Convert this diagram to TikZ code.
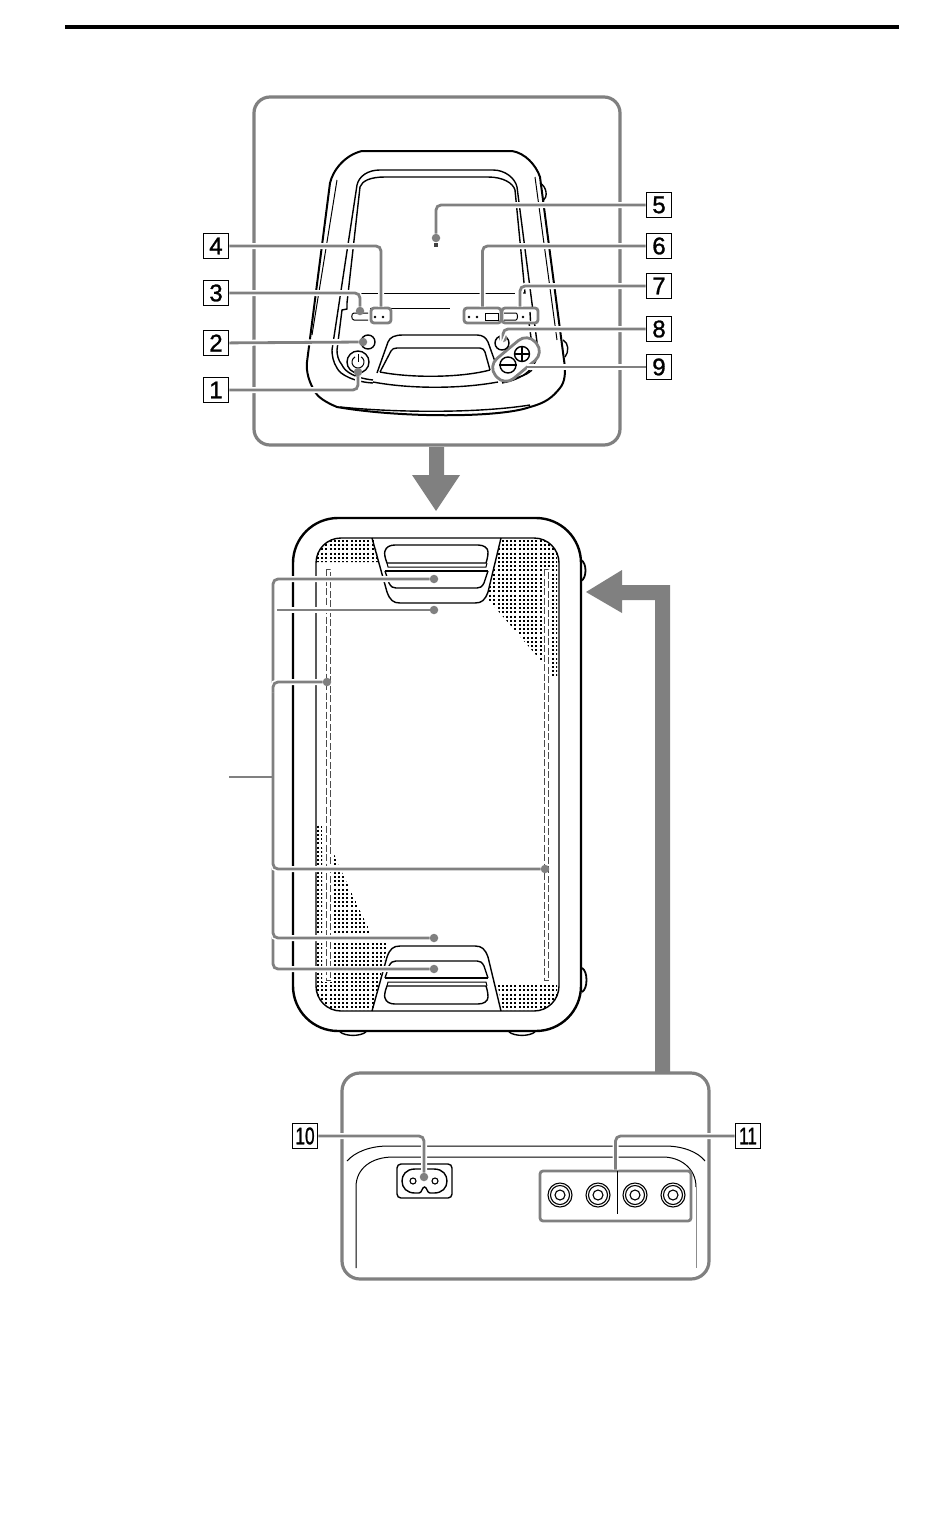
\documentclass[tikz,border=0pt]{standalone}
\usepackage{fontspec}
\setmainfont{Liberation Sans}
\newfontfamily\numfont[FakeBold=1.2]{Liberation Sans}
\definecolor{panelgray}{HTML}{808080}

\begin{document}
\begin{tikzpicture}
[   x=1pt,y=-1pt,
    ink/.style={draw=black,line width=1.4},
    thin ink/.style={draw=black,line width=1},
    numbox/.style={draw=black,line width=1.7,minimum size=25,inner sep=0,font=\numfont\fontsize{24}{24}\selectfont},
    panel/.style={draw=panelgray,line width=3.2,rounded corners=#1},
    leader/.style={draw=panelgray,line width=2.8,rounded corners=5,preaction={draw=white,line width=6}},
    gdot/.style={circle,fill=panelgray,inner sep=0,minimum size=8.5},
    gpill/.style={draw=panelgray,fill=white,line width=2.8,rounded corners=3,inner sep=0},
    btn/.style={circle,draw=black,line width=1.4,inner sep=0,minimum size=#1},
    jack/.style={circle,draw=black,line width=1.1,inner sep=0,minimum size=#1},
    grille/.pic={
        \draw[ink] (372,538) -- (387,592) .. controls (390,600) and (393,603) .. (400,603) -- (475,603) .. controls (482,603) and (485,600) .. (488,592) -- (501,538);
        \draw[ink] (387,563) .. controls (385,558) and (384,553) .. (385,551) .. controls (386,547) and (390,545) .. (395,545) -- (478,545) .. controls (484,545) and (488,548) .. (488,552) .. controls (488,556) and (487,560) .. (486,563) -- cycle;
        \draw[thin ink] (387,563) -- (388,567) -- (486,567) -- (487,563);
        \draw[ink,line width=1.7] (385,571) -- (488,571);
        \draw[ink] (385,571) -- (389,583) .. controls (391,587) and (393,588) .. (396,588) -- (477,588) .. controls (480,588) and (482,587) .. (484,583) -- (488,571);
    },
]

    \useasboundingbox (0,0) rectangle (950,1536);
    \fill[white] (0,0) rectangle (950,1536);

    % heading rule and panels
    \fill[black] (65,25) rectangle (899,29);
    \draw[panel=16] (254,97) rectangle (620,445);
    \draw[panel=18] (342,1073) rectangle (709,1279);
    \fill[panelgray] (429,447) -- (444,447) -- (444,475) -- (460,475) -- (436,511) -- (412,475) -- (429,475) -- cycle;
    \fill[panelgray] (670,1072) -- (655,1072) -- (655,600) -- (622,600) -- (622,613) -- (586,592) -- (622,570) -- (622,585) -- (670,585) -- cycle;

    % top view
    \draw[ink,line width=2] (362,151) -- (512,151) .. controls (525,153) and (536,165) .. (540,177) -- (564,360) .. controls (566,372) and (565,382) .. (560,388) .. controls (552,398) and (545,403) .. (530,407) .. controls (500,418) and (400,418) .. (337,407) .. controls (325,402) and (318,397) .. (315,392) .. controls (309,382) and (306,372) .. (307,362) -- (330,183) .. controls (333,170) and (345,155) .. (362,151);
    \draw[thin ink] (337,180) -- (312,335);
    \draw[thin ink] (535,177) -- (557,340);
    \draw[ink] (340,407) .. controls (400,413) and (480,413) .. (530,405);
    \draw[ink] (540,183) .. controls (547,187) and (548,197) .. (543,201);
    \draw[ink] (563,340) .. controls (569,343) and (569,352) .. (565,357);
    \draw[ink] (373,383) .. controls (355,382) and (340,375) .. (337,368) .. controls (333,362) and (332,355) .. (332,350) -- (357,185) .. controls (359,176) and (368,170) .. (380,170) -- (493,170) .. controls (505,170) and (515,178) .. (517,187) -- (538,350) .. controls (538,362) and (530,378) .. (502,383);
    \draw[ink] (373,380) .. controls (355,378) and (345,372) .. (342,365) .. controls (338,360) and (337,355) .. (337,350) -- (342,310) -- (347,309) -- (347,303) -- (360,187) .. controls (362,181) and (370,177) .. (385,177) -- (488,177) .. controls (503,177) and (513,183) .. (515,190) -- (525,293) -- (522,293) -- (522,300);
    \draw[ink] (527,308) -- (532,345);
    \draw[ink] (532,370) .. controls (526,376) and (515,379) .. (500,380);
    \draw[thin ink] (360,293) -- (515,293);
    \draw[thin ink] (370,308) -- (450,308);
    \draw[thin ink] (368,313) -- (354,313) .. controls (351,313) and (351,320) .. (354,320) -- (368,320);
    \draw[ink] (377,373) -- (388,342) .. controls (390,337) and (395,335) .. (403,335) -- (477,335) .. controls (483,335) and (486,338) .. (488,342) -- (498,370);
    \draw[ink] (380,372) -- (391,351) .. controls (392,349) and (394,348) .. (397,348) -- (480,348) .. controls (483,348) and (484,350) .. (485,352) -- (490,370);
    \draw[ink] (380,372) .. controls (410,378) and (460,378) .. (490,370);
    \draw[ink] (373,382) .. controls (410,389) and (460,389) .. (498,382);

    \node[gpill,rounded corners=12,minimum width=52,minimum height=26,rotate=40] (pill9) at (516,359.5) {};
    \node[btn=22] (power) at (358,362) {};
    \draw[thin ink] (361,356.8) arc[start angle=-60,end angle=240,radius=6];
    \draw[thin ink] (358,354) -- (358,362);
    \node[btn=14] (led2) at (368,342) {};
    \node[btn=14] (led8) at (502,343) {};
    \node[btn=15] (plus) at (522,354) {};
    \node[btn=16] (minus) at (508,365) {};
    \draw[ink] (plus.north) -- (plus.south);
    \draw[ink] (plus.west) -- (plus.east);
    \draw[ink] (minus.west) -- (minus.east);
    \node[fill=black!75,inner sep=0,minimum size=4] (sensor) at (436,245) {};

    \node[gpill,minimum width=20,minimum height=15] (pill4) at (381,315.5) {};
    \node[gpill,minimum width=37,minimum height=15] (pill6) at (482.5,315.5) {};
    \node[gpill,minimum width=36,minimum height=15] (pill7) at (520,315.5) {};
    \foreach \x in {375,383,469,477,523}
        \fill[black] (\x,317) circle (1.4);
    \draw[thin ink] (485,313) rectangle (498,320);
    \draw[thin ink] (504,313) -- (516,313) .. controls (518,313) and (518,320) .. (516,320) -- (504,320);
    \draw[ink] (530,312) -- (530.5,321);

    % front view
    \draw[ink,line width=2.4,rounded corners=45] (293,518) rectangle (581,1031);
    \draw[ink,rounded corners=25] (316,538) rectangle (559,1011);
    \foreach \x in {340,509}
        \draw[ink] (\x,1032) .. controls (\x+6,1036.5) and (\x+20,1036.5) .. (\x+26,1032);
    \draw[ink,line width=1.8] (581,560) .. controls (587,563) and (587,578) .. (581,581);
    \draw[ink,line width=1.8] (582,968) .. controls (588,971) and (588,989) .. (582,992);

    \begin{scope}
        \clip[rounded corners=25] (316,538) rectangle (559,1011);
        \clip (317,540) -- (374,540) -- (379,562) -- (317,562) -- cycle
              (501,540) -- (557,540) -- (557,678) -- (551,678) -- (551,569) -- (542,569) -- (542,662) -- (487,598) -- cycle
              (317,825) -- (322,825) -- (322,1010) -- (317,1010) -- cycle
              (332,848) -- (337,862) -- (372,935) -- (372,943) -- (388,943) -- (373,1010) -- (322,1010) -- (322,982) -- (332,982) -- cycle
              (497,983) -- (557,983) -- (557,1010) -- (503,1010) -- cycle;
        \foreach \k in {0,...,57}
            \draw[black,line width=1.9,dash pattern=on 1.9 off 2.3] (318+4.2*\k,540) -- (318+4.2*\k,1011);
    \end{scope}

    \draw[draw=black!70,line width=.7,dash pattern=on 7 off 2.5] (326,569) rectangle (330.5,980);
    \draw[draw=black!70,line width=.7,dash pattern=on 7 off 2.5] (544,569) rectangle (548.5,980);

    \pic (grilletop) at (0,0) {grille};
    \pic[yscale=-1] (grillebot) at (0,1549) {grille};

    % rear view
    \draw[thin ink] (347,1161) .. controls (355,1152) and (370,1146) .. (388,1146) -- (665,1146) .. controls (683,1146) and (698,1152) .. (705,1161);
    \draw[thin ink] (356,1268) -- (356,1187) .. controls (356,1168) and (372,1157) .. (393,1157) -- (663,1157) .. controls (680,1157) and (696,1168) .. (696,1187);
    \draw[draw=black!45,line width=1] (696,1187) -- (696,1268);

    \node[draw=black,line width=1.4,rounded corners=4,minimum width=55,minimum height=34,inner sep=0] (inlet) at (424.5,1181) {};
    \draw[ink] (415,1169) -- (434,1169) .. controls (443,1169) and (447,1175) .. (447,1181) .. controls (447,1188) and (442,1193) .. (434,1193) -- (430,1193) .. controls (427,1193) and (427,1187) .. (424.5,1187) .. controls (422,1187) and (422,1193) .. (419,1193) -- (415,1193) .. controls (407,1193) and (402,1188) .. (402,1181) .. controls (402,1175) and (406,1169) .. (415,1169) -- cycle;
    \node[jack=6] (pinl) at (413,1181) {};
    \node[jack=6] (pinr) at (435,1181) {};

    \node[gpill,minimum width=151,minimum height=50] (pill11) at (615.5,1196) {};
    \draw[thin ink] (617,1171) -- (617,1214);
    \foreach \x in {560,598,635,673}
    {   \node[jack=24] (jack-\x) at (\x,1195) {};
        \node[jack=19] at (\x,1195) {};
        \node[jack=10] at (\x,1195) {};
    }

    % number boxes
    \foreach \n/\y in {1/390,2/343,3/293,4/246}
        \node[numbox] (box\n) at (216,\y) {\n};
    \foreach \n/\y in {5/205,6/246,7/286,8/329,9/367}
        \node[numbox] (box\n) at (659,\y) {\n};
    \node[numbox] (box10) at (305,1136) {\scalebox{.72}[1]{10}};
    \node[numbox] (box11) at (748,1136) {\scalebox{.72}[1]{11}};

    % dots
    \node[gdot] (d1) at (358,372) {};
    \node[gdot] (d2) at (363,342) {};
    \node[gdot] (d3) at (360,311) {};
    \node[gdot] (d5) at (436,238) {};
    \node[gdot] (d8) at (503,338) {};
    \node[gdot] (d10) at (424,1177) {};
    \foreach \name/\x/\y in {a/434/579,b/434/610,c/327/682,e/545/869,f/434/938,g/434/969}
        \node[gdot] (bus-\name) at (\x,\y) {};

    \coordinate (e9) at (527,367);
    \coordinate (stub) at (229,777);
    \coordinate (busb) at (277,610);
    \coordinate (busc) at (273,692);
    \coordinate (buse) at (273,859);
    \coordinate (busf) at (273,928);
    \coordinate (busmid) at (273,777);

    \draw[leader] (box1) -| (d1);
    \draw[leader] (box2) -- (d2);
    \draw[leader] (box3) -| (d3);
    \draw[leader] (box4) -| (pill4);
    \draw[leader] (box5) -| (d5);
    \draw[leader] (box6) -| (pill6);
    \draw[leader] (box7) -| (pill7);
    \draw[leader] (box8) -| (d8);
    \draw[leader] (box9) -- (e9);
    \draw[leader] (box10) -| (d10);
    \draw[leader] (box11) -| (pill11);

    \draw[leader] (busb) -- (bus-b);
    \draw[leader] (bus-a) -| (273,969) -- (bus-g);
    \draw[leader] (busc) |- (bus-c);
    \draw[leader] (buse) |- (bus-e);
    \draw[leader] (busf) |- (bus-f);
    \draw[draw=panelgray,line width=2.8] (stub) -- (busmid);
\end{tikzpicture}
\end{document}
